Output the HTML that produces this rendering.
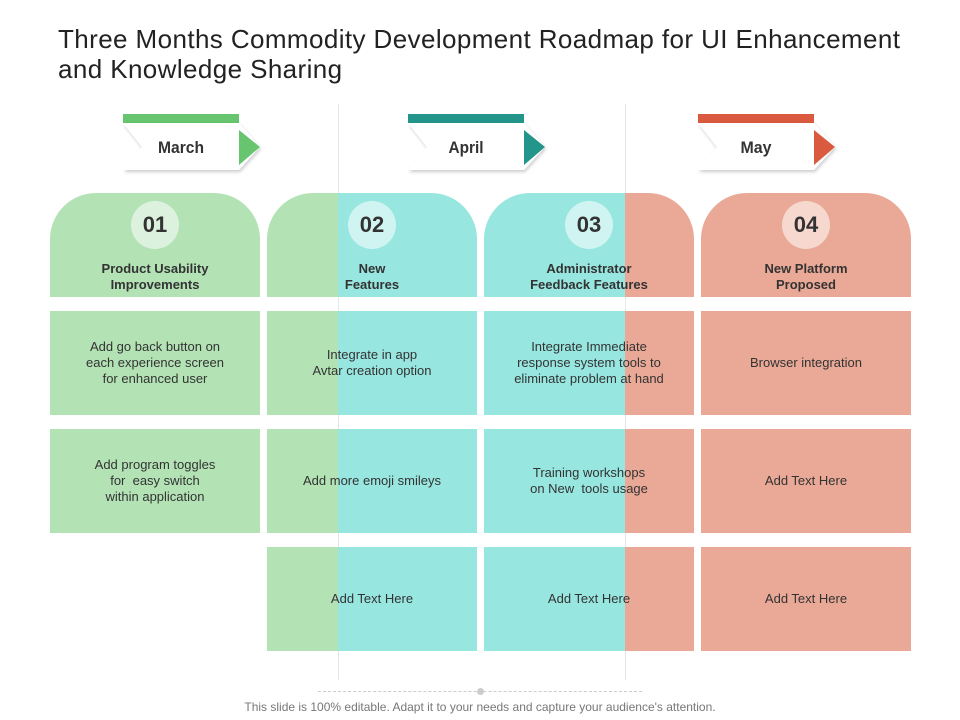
<!DOCTYPE html>
<html><head><meta charset="utf-8"><style>
body{margin:0;width:960px;height:720px;background:#fff;position:relative;overflow:hidden;font-family:"Liberation Sans",Arial,sans-serif}
.a{position:absolute}
.cell{position:absolute;display:flex;align-items:center;justify-content:center;text-align:center;font-size:13px;color:#333;line-height:16px;z-index:2}
.g{background:#b3e3b5}.c{background:#98e6e0}.s{background:#eaa996}
.gc{background:linear-gradient(90deg,#b3e3b5 0 71px,#98e6e0 71px)}
.cs{background:linear-gradient(90deg,#98e6e0 0 141px,#eaa996 141px)}
.hd{border-radius:46px 46px 0 0}
.circ{position:absolute;left:81px;top:8px;width:48px;height:48px;border-radius:50%;background:rgba(255,255,255,.55);font-size:22px;font-weight:bold;color:#333;display:flex;align-items:center;justify-content:center}
.ht{position:absolute;left:0;right:0;top:68px;font-size:13px;font-weight:bold;color:#333;text-align:center;line-height:16px}
.vl{position:absolute;top:104px;width:1px;height:576px;background:#e6e6e6;z-index:1}
</style></head><body>
<div class="a" style="left:58px;top:24px;font-size:26px;color:#222;line-height:30px;width:890px;letter-spacing:0.4px;white-space:nowrap">Three Months Commodity Development Roadmap for UI Enhancement<br>and Knowledge Sharing</div>
<div class="vl" style="left:338px"></div>
<div class="vl" style="left:625px"></div>

<svg class="a" style="left:0;top:0;z-index:3" width="960" height="190">
<defs><filter id="sh" x="-10%" y="-10%" width="130%" height="140%"><feDropShadow dx="1" dy="2" stdDeviation="1.5" flood-color="#000" flood-opacity="0.2"/></filter></defs>
<g>
<rect x="123" y="114" width="116" height="9" fill="#66c56e"/>
<polygon points="123,123 239,123 260,147 239,170 123,170 142,147" fill="#fff" filter="url(#sh)"/>
<polygon points="239,130 260,147 239,165" fill="#66c56e"/>
<text x="181" y="153" font-size="17" font-weight="bold" text-anchor="middle" fill="#333" textLength="46" lengthAdjust="spacingAndGlyphs">March</text></g>
<g>
<rect x="408" y="114" width="116" height="9" fill="#23958a"/>
<polygon points="408,123 524,123 545,147 524,170 408,170 427,147" fill="#fff" filter="url(#sh)"/>
<polygon points="524,130 545,147 524,165" fill="#23958a"/>
<text x="466" y="153" font-size="17" font-weight="bold" text-anchor="middle" fill="#333" textLength="35" lengthAdjust="spacingAndGlyphs">April</text></g>
<g>
<rect x="698" y="114" width="116" height="9" fill="#d95a3e"/>
<polygon points="698,123 814,123 835,147 814,170 698,170 717,147" fill="#fff" filter="url(#sh)"/>
<polygon points="814,130 835,147 814,165" fill="#d95a3e"/>
<text x="756" y="153" font-size="17" font-weight="bold" text-anchor="middle" fill="#333" textLength="31" lengthAdjust="spacingAndGlyphs">May</text></g>
</svg>

<div class="cell g hd" style="left:50px;top:193px;width:210px;height:104px"><div class="circ">01</div><div class="ht">Product Usability<br>Improvements</div></div>
<div class="cell gc hd" style="left:267px;top:193px;width:210px;height:104px"><div class="circ">02</div><div class="ht">New<br>Features</div></div>
<div class="cell cs hd" style="left:484px;top:193px;width:210px;height:104px"><div class="circ">03</div><div class="ht">Administrator<br>Feedback Features</div></div>
<div class="cell s hd" style="left:701px;top:193px;width:210px;height:104px"><div class="circ">04</div><div class="ht">New Platform<br>Proposed</div></div>

<div class="cell g" style="left:50px;top:311px;width:210px;height:104px">Add go back button on<br>each experience screen<br>for enhanced user</div>
<div class="cell gc" style="left:267px;top:311px;width:210px;height:104px">Integrate in app<br>Avtar creation option</div>
<div class="cell cs" style="left:484px;top:311px;width:210px;height:104px">Integrate Immediate<br>response system tools to<br>eliminate problem at hand</div>
<div class="cell s" style="left:701px;top:311px;width:210px;height:104px">Browser integration</div>

<div class="cell g" style="left:50px;top:429px;width:210px;height:104px">Add program toggles<br>for &nbsp;easy switch<br>within application</div>
<div class="cell gc" style="left:267px;top:429px;width:210px;height:104px">Add more emoji smileys</div>
<div class="cell cs" style="left:484px;top:429px;width:210px;height:104px">Training workshops<br>on New &nbsp;tools usage</div>
<div class="cell s" style="left:701px;top:429px;width:210px;height:104px">Add Text Here</div>

<div class="cell gc" style="left:267px;top:547px;width:210px;height:104px">Add Text Here</div>
<div class="cell cs" style="left:484px;top:547px;width:210px;height:104px">Add Text Here</div>
<div class="cell s" style="left:701px;top:547px;width:210px;height:104px">Add Text Here</div>

<div class="a" style="left:318px;top:691px;width:324px;border-top:1px dashed #ccc"></div>
<div class="a" style="left:477px;top:688px;width:7px;height:7px;border-radius:50%;background:#ccc"></div>
<div class="a" style="left:0;width:960px;top:700px;text-align:center;font-size:12px;color:#777">This slide is 100% editable. Adapt it to your needs and capture your audience's attention.</div>
</body></html>
